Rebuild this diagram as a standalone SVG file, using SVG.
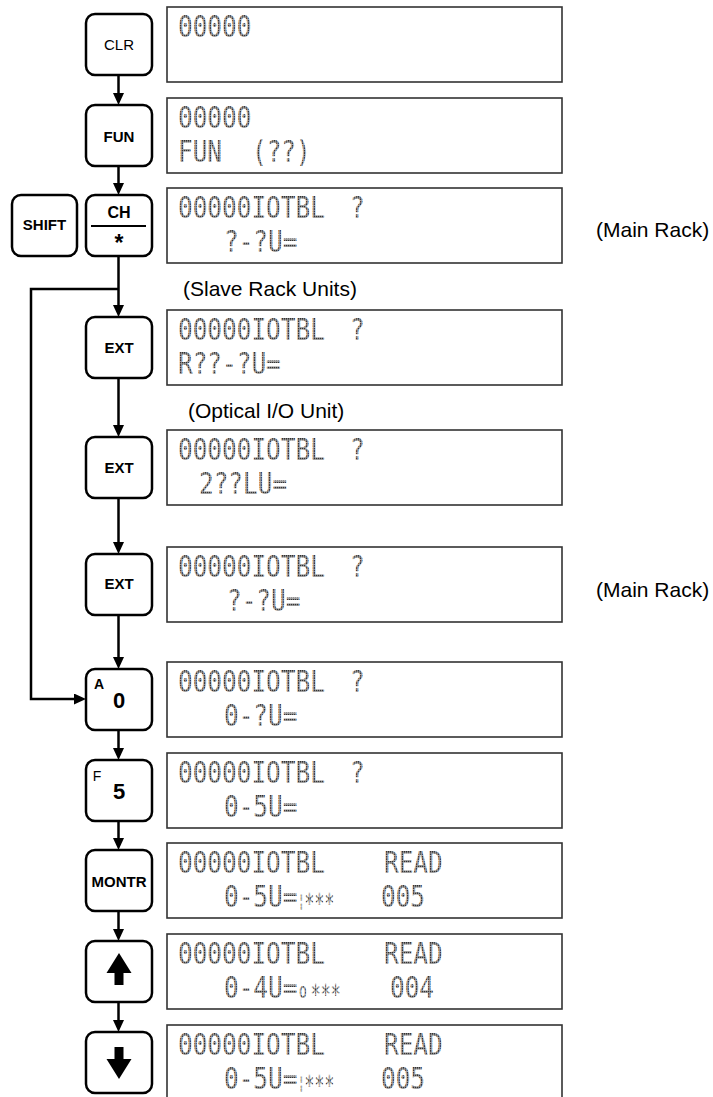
<svg xmlns="http://www.w3.org/2000/svg" width="713" height="1097" viewBox="0 0 713 1097">
<style>
.key{fill:#fff;stroke:#000;stroke-width:2.5}
.lcdbox{fill:#fff;stroke:#333;stroke-width:1.6}
.kl{font-family:"Liberation Sans",Arial,sans-serif;font-size:15px;fill:#000;text-anchor:middle}
.b{font-weight:bold}
.lcd{font-family:"DejaVu Sans Mono",monospace;font-size:24.4px;fill:url(#dots)}
.sm{font-family:"DejaVu Sans Mono",monospace;font-size:16.6px;fill:url(#dots)}
.note{font-family:"Liberation Sans",Arial,sans-serif;font-size:21px;fill:#000}
.conn{fill:none;stroke:#000;stroke-width:2.5}
</style>
<defs>
<pattern id="dots" width="2" height="2" patternUnits="userSpaceOnUse">
<rect width="2" height="2" fill="#aaa"/>
<rect width="1.3" height="1.3" fill="#333"/>
</pattern>
<marker id="ah" viewBox="0 0 12 11" refX="6" refY="5.5" markerWidth="12" markerHeight="11" markerUnits="userSpaceOnUse" orient="auto">
<path d="M0,0 L12,5.5 L0,11 z" fill="#000"/>
</marker>
</defs>

<g id="connectors">
<line class="conn" x1="118.5" y1="75" x2="118.5" y2="99" marker-end="url(#ah)"/>
<line class="conn" x1="118.5" y1="166" x2="118.5" y2="189" marker-end="url(#ah)"/>
<line class="conn" x1="118.5" y1="256" x2="118.5" y2="311" marker-end="url(#ah)"/>
<line class="conn" x1="118.5" y1="378" x2="118.5" y2="431" marker-end="url(#ah)"/>
<line class="conn" x1="118.5" y1="498" x2="118.5" y2="548" marker-end="url(#ah)"/>
<line class="conn" x1="118.5" y1="615" x2="118.5" y2="663" marker-end="url(#ah)"/>
<line class="conn" x1="118.5" y1="730" x2="118.5" y2="754" marker-end="url(#ah)"/>
<line class="conn" x1="118.5" y1="821" x2="118.5" y2="844" marker-end="url(#ah)"/>
<line class="conn" x1="118.5" y1="911" x2="118.5" y2="935" marker-end="url(#ah)"/>
<line class="conn" x1="118.5" y1="1002" x2="118.5" y2="1026" marker-end="url(#ah)"/>
<path class="conn" d="M118.5,289 H31 V699 H80" marker-end="url(#ah)"/>
</g>

<g id="key-clr"><rect class="key" x="86" y="14" width="66" height="61" rx="9"/><text class="kl" x="119" y="50">CLR</text></g>
<g id="key-fun"><rect class="key" x="86" y="105" width="66" height="61" rx="9"/><text class="kl b" x="119" y="142">FUN</text></g>
<g id="key-shift"><rect class="key" x="12" y="195" width="65" height="61" rx="9"/><text class="kl b" x="44.5" y="230">SHIFT</text></g>
<g id="key-ch"><rect class="key" x="86" y="195" width="66" height="61" rx="9"/><text class="kl b" x="119" y="218" style="font-size:16px">CH</text><line x1="91" y1="226" x2="146" y2="226" stroke="#000" stroke-width="2"/><text class="kl b" x="119" y="251" style="font-size:23px">*</text></g>
<g id="key-ext1"><rect class="key" x="86" y="317" width="66" height="61" rx="9"/><text class="kl b" x="119" y="353">EXT</text></g>
<g id="key-ext2"><rect class="key" x="86" y="437" width="66" height="61" rx="9"/><text class="kl b" x="119" y="473">EXT</text></g>
<g id="key-ext3"><rect class="key" x="86" y="554" width="66" height="61" rx="9"/><text class="kl b" x="119" y="589">EXT</text></g>
<g id="key-a0"><rect class="key" x="86" y="669" width="66" height="61" rx="9"/><text class="kl b" x="99" y="689" style="font-size:14px">A</text><text class="kl b" x="119" y="708" style="font-size:22px">0</text></g>
<g id="key-f5"><rect class="key" x="86" y="760" width="66" height="61" rx="9"/><text class="kl" x="97" y="781" style="font-size:14px">F</text><text class="kl b" x="119" y="799" style="font-size:22px">5</text></g>
<g id="key-montr"><rect class="key" x="86" y="850" width="66" height="61" rx="9"/><text class="kl b" x="119" y="887">MONTR</text></g>
<g id="key-up"><rect class="key" x="86" y="941" width="66" height="61" rx="9"/><path d="M119,953 L131.5,973 L123.5,973 L123.5,985 L114.5,985 L114.5,973 L106.5,973 z" fill="#000"/></g>
<g id="key-down"><rect class="key" x="86" y="1032" width="66" height="61" rx="9"/><path d="M114.5,1047 L123.5,1047 L123.5,1059 L131.5,1059 L119,1079 L106.5,1059 L114.5,1059 z" fill="#000"/></g>

<g id="lcd1"><rect class="lcdbox" x="167" y="7" width="395" height="75"/>
<text class="lcd" transform="translate(178 37) scale(1 1.22)">00000</text></g>
<g id="lcd2"><rect class="lcdbox" x="167" y="98" width="395" height="75"/>
<text class="lcd" transform="translate(178 128) scale(1 1.22)">00000</text>
<text class="lcd" transform="translate(178 162) scale(1 1.22)">FUN</text>
<text class="lcd" transform="translate(252 162) scale(1 1.22)">(??)</text></g>
<g id="lcd3"><rect class="lcdbox" x="167" y="188" width="395" height="75"/>
<text class="lcd" transform="translate(178 218) scale(1 1.22)">00000IOTBL</text>
<text class="lcd" transform="translate(350 218) scale(1 1.22)">?</text>
<text class="lcd" transform="translate(224 252) scale(1 1.22)">?-?U=</text></g>
<g id="lcd4"><rect class="lcdbox" x="167" y="310" width="395" height="75"/>
<text class="lcd" transform="translate(178 340) scale(1 1.22)">00000IOTBL</text>
<text class="lcd" transform="translate(350 340) scale(1 1.22)">?</text>
<text class="lcd" transform="translate(178 374) scale(1 1.22)">R??-?U=</text></g>
<g id="lcd5"><rect class="lcdbox" x="167" y="430" width="395" height="75"/>
<text class="lcd" transform="translate(178 460) scale(1 1.22)">00000IOTBL</text>
<text class="lcd" transform="translate(350 460) scale(1 1.22)">?</text>
<text class="lcd" transform="translate(199 494) scale(1 1.22)">2??LU=</text></g>
<g id="lcd6"><rect class="lcdbox" x="167" y="547" width="395" height="75"/>
<text class="lcd" transform="translate(178 577) scale(1 1.22)">00000IOTBL</text>
<text class="lcd" transform="translate(350 577) scale(1 1.22)">?</text>
<text class="lcd" transform="translate(227 611) scale(1 1.22)">?-?U=</text></g>
<g id="lcd7"><rect class="lcdbox" x="167" y="662" width="395" height="75"/>
<text class="lcd" transform="translate(178 692) scale(1 1.22)">00000IOTBL</text>
<text class="lcd" transform="translate(350 692) scale(1 1.22)">?</text>
<text class="lcd" transform="translate(224 726) scale(1 1.22)">0-?U=</text></g>
<g id="lcd8"><rect class="lcdbox" x="167" y="753" width="395" height="75"/>
<text class="lcd" transform="translate(178 783) scale(1 1.22)">00000IOTBL</text>
<text class="lcd" transform="translate(350 783) scale(1 1.22)">?</text>
<text class="lcd" transform="translate(224 817) scale(1 1.22)">0-5U=</text></g>
<g id="lcd9"><rect class="lcdbox" x="167" y="843" width="395" height="75"/>
<text class="lcd" transform="translate(178 873) scale(1 1.22)">00000IOTBL</text>
<text class="lcd" transform="translate(384 873) scale(1 1.22)">READ</text>
<text class="lcd" transform="translate(224 907) scale(1 1.22)">0-5U=</text>
<text class="sm" transform="translate(298 907) scale(1 1.6)"><tspan style="font-size:11px">¦</tspan>∗∗∗</text>
<text class="lcd" transform="translate(381 907) scale(1 1.22)">005</text></g>
<g id="lcd10"><rect class="lcdbox" x="167" y="934" width="395" height="75"/>
<text class="lcd" transform="translate(178 964) scale(1 1.22)">00000IOTBL</text>
<text class="lcd" transform="translate(384 964) scale(1 1.22)">READ</text>
<text class="lcd" transform="translate(224 998) scale(1 1.22)">0-4U=</text>
<text class="sm" transform="translate(299 998) scale(1 1.6)"><tspan style="font-size:13px">o</tspan><tspan dx="4">∗∗∗</tspan></text>
<text class="lcd" transform="translate(390 998) scale(1 1.22)">004</text></g>
<g id="lcd11"><rect class="lcdbox" x="167" y="1025" width="395" height="75"/>
<text class="lcd" transform="translate(178 1055) scale(1 1.22)">00000IOTBL</text>
<text class="lcd" transform="translate(384 1055) scale(1 1.22)">READ</text>
<text class="lcd" transform="translate(224 1089) scale(1 1.22)">0-5U=</text>
<text class="sm" transform="translate(298 1089) scale(1 1.6)"><tspan style="font-size:11px">¦</tspan>∗∗∗</text>
<text class="lcd" transform="translate(381 1089) scale(1 1.22)">005</text></g>

<g id="notes">
<text class="note" x="596" y="237">(Main Rack)</text>
<text class="note" x="183" y="296">(Slave Rack Units)</text>
<text class="note" x="188" y="418">(Optical I/O Unit)</text>
<text class="note" x="596" y="597">(Main Rack)</text>
</g>
</svg>
